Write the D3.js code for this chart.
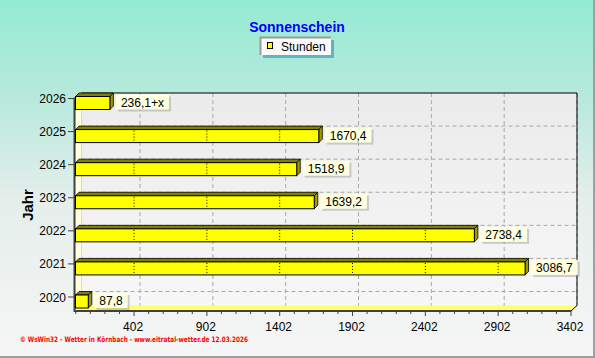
<!DOCTYPE html>
<html><head><meta charset="utf-8">
<script src="https://cdn.jsdelivr.net/npm/d3@7/dist/d3.min.js"></script>
<style>html,body{margin:0;padding:0;background:#fff}svg{display:block}</style>
</head><body>
<script>
// ---- data ----
const categories = ["2020","2021","2022","2023","2024","2025","2026"];
const values = [87.8, 3086.7, 2738.4, 1639.2, 1518.9, 1670.4, 236.1];
const suffixes = ["","","","","","","+x"];
const majorTicks = [402, 902, 1402, 1902, 2402, 2902, 3402];
const minorTicks = d3.range(2, 3403, 100);
const title = "Sonnenschein";
const seriesName = "Stunden";
const axisTitle = "Jahr";
const footer = "\u00A9 WsWin32  -  Wetter in K\u00F6rnbach - www.eitratal-wetter.de  12.03.2026";

// ---- layout ----
const W = 595, H = 358;
const DX = 6, DY = 5.5;      // wall depth
const BX = 3.5, BY = 3.5;    // bar depth
const svg = d3.select("body").append("svg").attr("width", W).attr("height", H);
const defs = svg.append("defs");
const bg = defs.append("linearGradient").attr("id","bg").attr("x1",0).attr("y1",0).attr("x2",0).attr("y2",1);
[[0,"#94ebd3"],[0.25,"#b4e9db"],[0.55,"#e4eeeb"],[1,"#f6f6f6"]].forEach(s=>bg.append("stop").attr("offset",s[0]).attr("stop-color",s[1]));
const wg = defs.append("linearGradient").attr("id","wall").attr("x1",0).attr("y1",0).attr("x2",0).attr("y2",1);
[[0,"#ebebeb"],[1,"#f7f7f7"]].forEach(s=>wg.append("stop").attr("offset",s[0]).attr("stop-color",s[1]));

svg.append("rect").attr("width",W).attr("height",H).attr("fill","url(#bg)");
svg.append("line").attr("x1",0).attr("x2",W).attr("y1",357).attr("y2",357).attr("stroke","#a0a0a0").attr("stroke-width",2);
svg.append("line").attr("x1",594).attr("x2",594).attr("y1",0).attr("y2",H).attr("stroke","#a0a0a0").attr("stroke-width",2);

const x = d3.scaleLinear().domain([0, 3402]).range([75.5, 571]);
const y = d3.scalePoint().domain(categories).range([297, 98.5]);
const x0 = x(0), xEnd = x(3402), yBot = 311, yTop = y(categories[categories.length-1]);

// wall
svg.append("rect").attr("x", x0+DX).attr("y", yTop-DY).attr("width", xEnd-x0).attr("height", yBot-yTop)
  .attr("fill","url(#wall)");
// left side wall
svg.append("path").attr("d", `M${x0},${yTop}L${x0+DX},${yTop-DY}L${x0+DX},${yBot-DY}L${x0},${yBot}Z`).attr("fill","#ffffe0");
// floor
svg.append("path").attr("d", `M${x0},${yBot}L${x0+DX},${yBot-DY}L${xEnd+DX},${yBot-DY}L${xEnd},${yBot}Z`).attr("fill","#ffff70");

// grid lines on wall
svg.append("g").selectAll("line").data(majorTicks).join("line")
  .attr("x1", d=>x(d)+DX).attr("x2", d=>x(d)+DX).attr("y1", yTop-DY).attr("y2", yBot-DY)
  .attr("stroke","#a8a8a8").attr("stroke-dasharray","4,3");
svg.append("g").selectAll("line").data(categories.slice(0,-1)).join("line")
  .attr("x1", x0+DX).attr("x2", xEnd+DX).attr("y1", d=>y(d)-DY).attr("y2", d=>y(d)-DY)
  .attr("stroke","#a8a8a8").attr("stroke-dasharray","4,3");

// wall outline
svg.append("path").attr("d", `M${x0},${yTop}L${x0+DX},${yTop-DY}L${xEnd+DX},${yTop-DY}L${xEnd+DX},${yBot-DY}L${xEnd},${yBot}`)
  .attr("fill","none").attr("stroke","#000").attr("stroke-width",1);
svg.append("line").attr("x1",x0+DX).attr("x2",x0+DX).attr("y1",yTop-DY).attr("y2",yBot-DY).attr("stroke","#c8c8a0").attr("stroke-width",0.6);

// axes
svg.append("line").attr("x1",74.5).attr("x2",74.5).attr("y1",yTop-1).attr("y2",yBot+1).attr("stroke","#404040").attr("stroke-width",2);
svg.append("line").attr("x1",74).attr("x2",xEnd).attr("y1",yBot).attr("y2",yBot).attr("stroke","#404040").attr("stroke-width",2);
svg.append("g").selectAll("line").data(minorTicks).join("line")
  .attr("x1",d=>x(d)).attr("x2",d=>x(d)).attr("y1",yBot).attr("y2",d=>majorTicks.includes(d)?yBot+5:yBot+3)
  .attr("stroke","#404040");
svg.append("g").selectAll("text").data(majorTicks).join("text")
  .attr("x",d=>x(d)-1).attr("y",331).attr("text-anchor","middle")
  .attr("font-family","'Liberation Sans', Arial, sans-serif").attr("font-size",12).attr("fill","#000").text(d=>d);
svg.append("g").selectAll("line").data(categories).join("line")
  .attr("x1",68).attr("x2",74).attr("y1",d=>y(d)).attr("y2",d=>y(d)).attr("stroke","#404040");
svg.append("g").selectAll("text").data(categories).join("text")
  .attr("x",66).attr("y",d=>y(d)+4.5).attr("text-anchor","end")
  .attr("font-family","'Liberation Sans', Arial, sans-serif").attr("font-size",12).attr("fill","#000").text(d=>d);

// bars
const data = categories.map((c,i)=>({c, v: values[i], s: suffixes[i]}));
const bars = svg.append("g").selectAll("g").data(data).join("g");
bars.append("path").attr("d", d=>{const t=y(d.c), xv=x(d.v);
    return `M${x0},${t-2}L${x0+BX},${t-2-BY}L${xv+BX},${t-2-BY}L${xv},${t-2}Z`;})
  .attr("fill","#808000").attr("stroke","#000").attr("stroke-width",0.8);
bars.append("path").attr("d", d=>{const t=y(d.c), xv=x(d.v);
    return `M${xv},${t-2}L${xv+BX},${t-2-BY}L${xv+BX},${t+11-BY}L${xv},${t+11}Z`;})
  .attr("fill","#9c9c00").attr("stroke","#000").attr("stroke-width",0.8);
bars.append("rect").attr("x",x0).attr("y",d=>y(d.c)-2).attr("width",d=>x(d.v)-x0).attr("height",13)
  .attr("fill","#ffff00").attr("stroke","#000").attr("stroke-width",1);
bars.each(function(d){
  const t = y(d.c);
  d3.select(this).selectAll("line.dot").data(majorTicks.filter(m=>x(m) < x(d.v)-1)).join("line")
    .attr("x1",m=>x(m)).attr("x2",m=>x(m)).attr("y1",t-1).attr("y2",t+10.5)
    .attr("stroke","#000").attr("stroke-dasharray","1,2");
});

// value labels
const fmt = d3.format(".1f");
bars.each(function(d){
  const g = d3.select(this), t = y(d.c);
  const txt = fmt(d.v).replace(".",",") + d.s;
  const bx = x(d.v) + BX + 2.5;
  const shadow = g.append("rect").attr("fill","#9a9a9a").attr("opacity",0.45);
  const box = g.append("rect").attr("fill","#ffffe1");
  const tx = g.append("text").attr("x",bx+5).attr("y",t+8)
    .attr("font-family","'Liberation Sans', Arial, sans-serif").attr("font-size",12).attr("fill","#000").text(txt);
  const w = tx.node().getComputedTextLength() + 10;
  box.attr("x",bx).attr("y",t-4).attr("width",w).attr("height",15);
  shadow.attr("x",bx+2).attr("y",t-2).attr("width",w).attr("height",15);
});

// title
svg.append("text").attr("x",297).attr("y",32).attr("text-anchor","middle")
  .attr("font-family","'Liberation Sans', Arial, sans-serif").attr("font-size",14).attr("font-weight","bold")
  .attr("fill","#0000ff").text(title);

// legend
const lg = svg.append("g");
lg.append("rect").attr("x",263).attr("y",40).attr("width",71).attr("height",18).attr("fill","#4fa6bb").attr("opacity",0.8);
lg.append("rect").attr("x",260).attr("y",37).attr("width",71).attr("height",18).attr("fill","#fafafa");
lg.append("path").attr("d","M260.5,55V37.5H331").attr("fill","none").attr("stroke","#9a9a9a").attr("stroke-width",2);
lg.append("rect").attr("x",267.5).attr("y",42.5).attr("width",5).attr("height",6).attr("fill","#ffff00").attr("stroke","#000");
lg.append("text").attr("x",281).attr("y",50.5)
  .attr("font-family","'Liberation Sans', Arial, sans-serif").attr("font-size",12).attr("fill","#000").text(seriesName);

// axis title
svg.append("text").attr("transform","translate(33,205) rotate(-90)").attr("text-anchor","middle")
  .attr("font-family","'Liberation Sans', Arial, sans-serif").attr("font-size",15).attr("font-weight","bold")
  .attr("fill","#000").text(axisTitle);

// footer
svg.append("text").attr("x",20).attr("y",342).attr("textLength",228).attr("lengthAdjust","spacingAndGlyphs")
  .attr("font-family","'DejaVu Sans', sans-serif").attr("font-size",7.5).attr("font-weight","bold").attr("fill","#ff0000").text(footer);
</script>
</body></html>
